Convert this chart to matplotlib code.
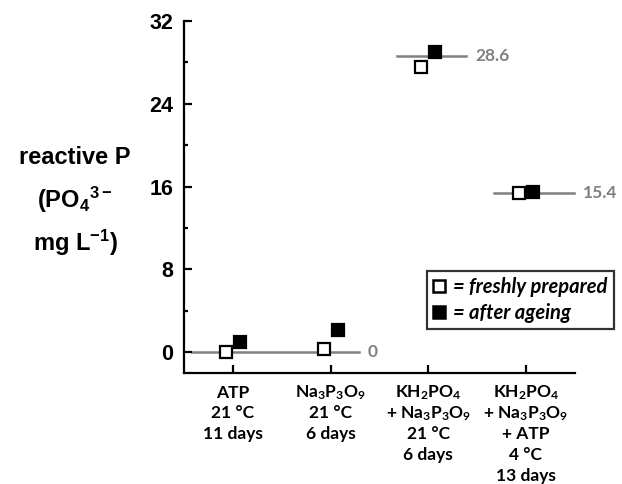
import matplotlib
matplotlib.use("Agg")
import matplotlib.pyplot as plt
from matplotlib.lines import Line2D
from matplotlib.ticker import MultipleLocator

plt.rcParams['mathtext.fontset'] = 'custom'
plt.rcParams['mathtext.rm'] = 'Lato:bold'
plt.rcParams['mathtext.it'] = 'Lato:bold:italic'
plt.rcParams['mathtext.bf'] = 'Lato:bold'
plt.rcParams['mathtext.sf'] = 'Liberation Sans:bold'

categories = [
    "ATP\n21 °C\n11 days",
    "Na$_3$P$_3$O$_9$\n21 °C\n6 days",
    "KH$_2$PO$_4$\n+ Na$_3$P$_3$O$_9$\n21 °C\n6 days",
    "KH$_2$PO$_4$\n+ Na$_3$P$_3$O$_9$\n+ ATP\n4 °C\n13 days",
]
fresh = [0.0, 0.3, 27.6, 15.4]
aged = [1.0, 2.2, 29.0, 15.5]
ref_values = [0, 28.6, 15.4]
ref_labels = ["0", "28.6", "15.4"]
yticks = [0, 8, 16, 24, 32]

fig = plt.figure(figsize=(6.22, 4.84), dpi=100)
ax = fig.add_axes([0.296, 0.2293, 0.924 - 0.296, 0.9566 - 0.2293])

x = list(range(1, len(categories) + 1))
grey = '#808080'
# reference lines
ref_spans = [(0.58, 2.29), (2.68, 3.39), (3.67, 4.49)]
for (a, b), v, lab in zip(ref_spans, ref_values, ref_labels):
    ax.plot([a, b], [v, v], color=grey, lw=1.8, zorder=1, clip_on=False)
    ax.text(b + 0.09, v, lab, color=grey, fontsize=12.5, fontweight='bold',
            family='Lato', va='center', ha='left', clip_on=False)

off = 0.072
ax.plot([xi - off for xi in x], fresh, 's', ms=8.5, mfc='white', mec='black',
        mew=1.6, ls='none', zorder=3, clip_on=False)
ax.plot([xi + off for xi in x], aged, 's', ms=8.5, mfc='black', mec='black',
        mew=1.6, ls='none', zorder=3, clip_on=False)

ax.set_xlim(0.5, 4.5)
ax.set_ylim(-2, 32)
ax.spines['top'].set_visible(False)
ax.spines['right'].set_visible(False)
for s in ['left', 'bottom']:
    ax.spines[s].set_linewidth(1.6)
ax.spines['left'].set_bounds(-2, 32)

ax.set_yticks(yticks)
ax.set_yticklabels([str(t) for t in yticks], family='Liberation Sans',
                   fontweight='bold', fontsize=15.5)
ax.yaxis.set_minor_locator(MultipleLocator(4))
ax.tick_params(axis='y', which='major', direction='in', length=6, width=1.6, pad=8)
ax.tick_params(axis='y', which='minor', direction='in', length=3, width=1.6)
ax.set_xticks(x)
ax.set_xticklabels([""] * len(x))
ax.tick_params(axis='x', which='major', direction='in', length=6, width=1.6)

# category labels, one text per line at fixed spacing
for xi, cat in zip(x, categories):
    for k, line in enumerate(cat.split("\n")):
        ax.annotate(line, xy=(xi, 0), xycoords=ax.get_xaxis_transform(),
                    xytext=(0, -(24.5 + 20.8 * k)), textcoords='offset pixels',
                    ha='center', va='baseline', family='Lato', fontweight='bold',
                    fontsize=12.5, annotation_clip=False)

# y label
fig.text(75 / 622, 1 - 158 / 484, "reactive P", family='Liberation Sans',
         fontweight='bold', fontsize=17, ha='center', va='center')
fig.text(75 / 622, 1 - 200 / 484, r"(PO$\mathsf{_4}$$\mathsf{^{3-}}$",
         family='Liberation Sans', fontweight='bold', fontsize=17, ha='center', va='center')
fig.text(75 / 622, 1 - 243 / 484, r"mg L$\mathsf{^{-1}}$)",
         family='Liberation Sans', fontweight='bold', fontsize=17, ha='center', va='center')

handles = [
    Line2D([], [], marker='s', ls='none', ms=9, mfc='white', mec='black', mew=1.8),
    Line2D([], [], marker='s', ls='none', ms=9, mfc='black', mec='black', mew=1.8),
]
leg = ax.legend(handles, ["= freshly prepared", "= after ageing"],
                loc='upper left', bbox_to_anchor=(427 / 622, 1 - 271 / 484),
                bbox_transform=fig.transFigure, frameon=True, fancybox=False,
                handlelength=0.6, handletextpad=0.4, borderpad=0.3,
                labelspacing=0.3, borderaxespad=0,
                prop={'family': 'Lato', 'weight': 'bold', 'style': 'italic', 'size': 14.5})
leg.get_frame().set_edgecolor('black')
leg.get_frame().set_linewidth(1.6)

fig.savefig("out.png", dpi=100)
